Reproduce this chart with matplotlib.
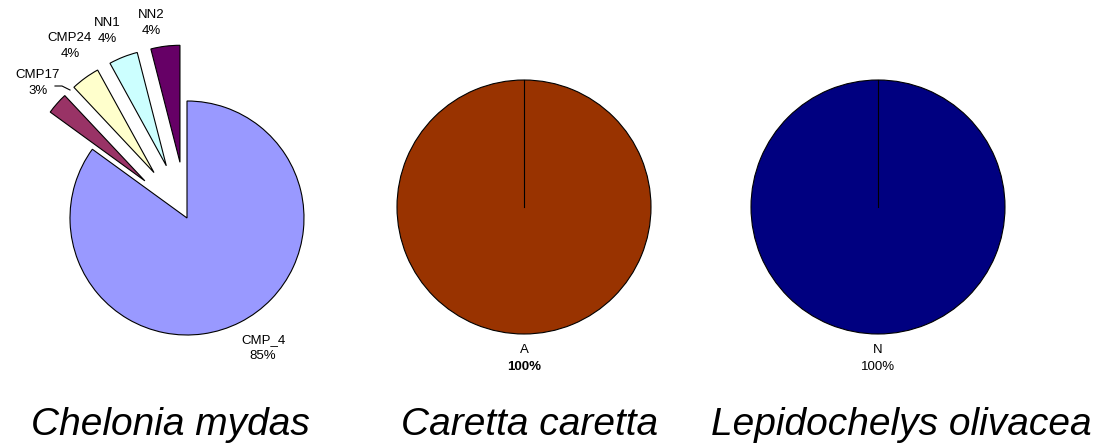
import matplotlib
matplotlib.use('Agg')
import matplotlib.pyplot as plt

plt.rcParams['font.family'] = ['Liberation Sans', 'DejaVu Sans']

# Chelonia mydas haplotypes
cm_labels = ['CMP_4', 'CMP17', 'CMP24', 'NN1', 'NN2']
cm_values = [85, 3, 4, 4, 4]
cm_colors = ['#9999FF', '#993366', '#FFFFCC', '#CCFFFF', '#660066']
cm_explode = [0, 0.48, 0.48, 0.48, 0.48]   # fraction of radius

# Caretta caretta
cc_labels = ['A']
cc_values = [100]
cc_colors = ['#993300']

# Lepidochelys olivacea
lo_labels = ['N']
lo_values = [100]
lo_colors = ['#000080']

titles = ['Chelonia mydas', 'Caretta caretta', 'Lepidochelys olivacea']

W, H = 1101, 444
fig = plt.figure(figsize=(W / 100, H / 100), dpi=100)
ax = fig.add_axes([0, 0, 1, 1])

wp = dict(edgecolor='black', linewidth=0.8)

# first pie (explode is in data units when center/radius are set)
c1, r1 = (187, H - 218), 117
ax.pie(cm_values, colors=cm_colors, explode=[e * r1 for e in cm_explode],
       startangle=90, counterclock=False, center=c1, radius=r1,
       wedgeprops=wp, frame=True)

# label positions (pixel coords from top-left)
cm_pos = [(263, 348), (38, 83), (70, 46), (107, 31), (151, 23)]
for lab, v, (px, py) in zip(cm_labels, cm_values, cm_pos):
    ax.text(px, H - py, f'{lab}\n{v}%', ha='center', va='center',
            fontsize=9.5, linespacing=1.35)
# leader line for CMP17
ax.plot([55, 62, 70], [H - 86, H - 86, H - 90], color='black', lw=0.8)

# second and third pies
for vals, cols, labs, cx, bold in [(cc_values, cc_colors, cc_labels, 524, True),
                                   (lo_values, lo_colors, lo_labels, 878, False)]:
    c, r = (cx, H - 207), 127
    ax.pie(vals, colors=cols, startangle=90, counterclock=False,
           center=c, radius=r, wedgeprops=wp, frame=True)
    ax.plot([c[0], c[0]], [c[1], c[1] + r], color='black', lw=0.8)
    ax.text(cx, H - 350, labs[0], ha='center', va='center', fontsize=9.5)
    ax.text(cx, H - 367, f'{vals[0]}%', ha='center', va='center', fontsize=9.5,
            fontweight='bold' if bold else 'normal')

ax.set_xlim(0, W)
ax.set_ylim(0, H)
ax.set_aspect('equal')
ax.axis('off')

for t, x in zip(titles, [170, 530, 901]):
    ax.text(x, H - 435, t, ha='center', va='baseline', fontsize=28,
            style='italic')

plt.savefig('out.png', dpi=100)
